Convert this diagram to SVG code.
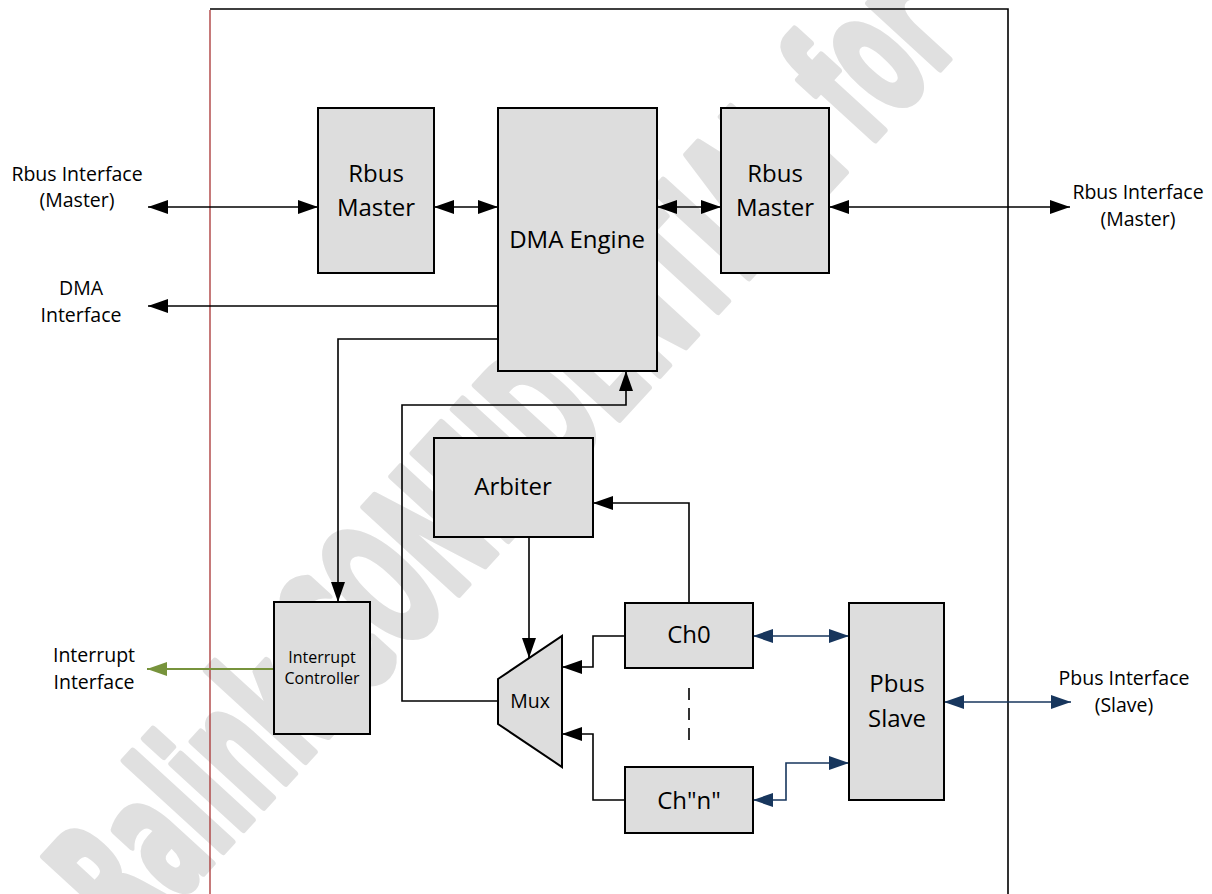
<svg xmlns="http://www.w3.org/2000/svg" width="1212" height="894" viewBox="0 0 1212 894">
<defs>
<style>
.box{fill:#dddddd;stroke:#000;stroke-width:2}
.t{font-family:'Open Sans','Noto Sans',sans-serif;fill:#000;text-anchor:middle}
.big{font-size:24px}
.lab{font-size:19.5px}
.sm{font-size:16px}
.c{fill:none;stroke:#000;stroke-width:1.6}
.n{fill:none;stroke:#17365d;stroke-width:1.6}
.g{fill:none;stroke:#77933c;stroke-width:2}
.wm{font-family:'DejaVu Sans Condensed','DejaVu Sans',sans-serif;font-weight:bold;font-size:175px;fill:#e0e0e0;stroke:#e0e0e0;stroke-width:8;stroke-linejoin:round}
</style>
<marker id="ab" viewBox="0 0 20 14" refX="20" refY="7" markerWidth="20" markerHeight="14" markerUnits="userSpaceOnUse" orient="auto-start-reverse"><path d="M0,0 L20,7 L0,14 z" fill="#000"/></marker>
<marker id="an" viewBox="0 0 20 14" refX="20" refY="7" markerWidth="20" markerHeight="14" markerUnits="userSpaceOnUse" orient="auto-start-reverse"><path d="M0,0 L20,7 L0,14 z" fill="#17365d"/></marker>
<marker id="ag" viewBox="0 0 20 14" refX="20" refY="7" markerWidth="20" markerHeight="14" markerUnits="userSpaceOnUse" orient="auto-start-reverse"><path d="M0,0 L20,7 L0,14 z" fill="#77933c"/></marker>
</defs>
<rect width="1212" height="894" fill="#fff"/>
<text class="wm" transform="translate(132,950) rotate(-47.5)" textLength="1230" lengthAdjust="spacingAndGlyphs">Ralink CONFIDENTIAL for</text>
<g id="frame">
<path d="M210,10 V894" stroke="#a83232" stroke-width="1.3" fill="none"/>
<path d="M210,9 H1008 V894" stroke="#000" stroke-width="1.6" fill="none"/>
</g>
<g id="connectors">
<path class="c" d="M148,207 H318" marker-start="url(#ab)" marker-end="url(#ab)"/>
<path class="c" d="M434,207 H498" marker-start="url(#ab)" marker-end="url(#ab)"/>
<path class="c" d="M657,207 H721" marker-start="url(#ab)" marker-end="url(#ab)"/>
<path class="c" d="M829,207 H1070" marker-start="url(#ab)" marker-end="url(#ab)"/>
<path class="c" d="M498,306 H148" marker-end="url(#ab)"/>
<path class="c" d="M498,339 H338 V602" marker-end="url(#ab)"/>
<path class="c" d="M498,701 H402 V405 H626 V371" marker-end="url(#ab)"/>
<path class="c" d="M529,537 V658" marker-end="url(#ab)"/>
<path class="c" d="M689,603 V503 H593" marker-end="url(#ab)"/>
<path class="c" d="M625,636 H593 V667 H562" marker-end="url(#ab)"/>
<path class="c" d="M625,800 H593 V734 H562" marker-end="url(#ab)"/>
<path class="c" d="M689,688 V742" stroke-dasharray="12,8"/>
<path class="n" d="M753,636 H849" marker-start="url(#an)" marker-end="url(#an)"/>
<path class="n" d="M753,800 H786 V763 H849" marker-start="url(#an)" marker-end="url(#an)"/>
<path class="n" d="M944,702 H1071" marker-start="url(#an)" marker-end="url(#an)"/>
<path class="g" d="M274,669 H147" marker-end="url(#ag)"/>
</g>
<g id="labels">
<text class="t lab" x="77" y="181">Rbus Interface</text>
<text class="t lab" x="77" y="207">(Master)</text>
<text class="t lab" x="81" y="295">DMA</text>
<text class="t lab" x="81" y="322">Interface</text>
<text class="t lab" x="94" y="662">Interrupt</text>
<text class="t lab" x="94" y="689">Interface</text>
<text class="t lab" x="1138" y="199">Rbus Interface</text>
<text class="t lab" x="1138" y="226">(Master)</text>
<text class="t lab" x="1124" y="685">Pbus Interface</text>
<text class="t lab" x="1124" y="712">(Slave)</text>
</g>
<g id="rbus-master-left">
<rect class="box" x="318" y="108" width="116" height="165"/>
<text class="t big" x="376" y="182">Rbus</text>
<text class="t big" x="376" y="216">Master</text>
</g>
<g id="dma-engine">
<rect class="box" x="498" y="108" width="159" height="263"/>
<text class="t big" x="577" y="248">DMA Engine</text>
</g>
<g id="rbus-master-right">
<rect class="box" x="721" y="108" width="108" height="165"/>
<text class="t big" x="775" y="182">Rbus</text>
<text class="t big" x="775" y="216">Master</text>
</g>
<g id="arbiter">
<rect class="box" x="434" y="438" width="159" height="99"/>
<text class="t big" x="513" y="495">Arbiter</text>
</g>
<g id="interrupt-controller">
<rect class="box" x="274" y="602" width="96" height="132"/>
<text class="t sm" x="322" y="663">Interrupt</text>
<text class="t sm" x="322" y="684">Controller</text>
</g>
<g id="mux">
<polygon class="box" points="498,679 562,636 562,767 498,724"/>
<text class="t lab" x="530" y="708">Mux</text>
</g>
<g id="ch0">
<rect class="box" x="625" y="603" width="128" height="65"/>
<text class="t big" x="689" y="643">Ch0</text>
</g>
<g id="chn">
<rect class="box" x="625" y="767" width="128" height="66"/>
<text class="t big" x="689" y="809">Ch"n"</text>
</g>
<g id="pbus-slave">
<rect class="box" x="849" y="603" width="95" height="197"/>
<text class="t big" x="897" y="692">Pbus</text>
<text class="t big" x="897" y="727">Slave</text>
</g>
</svg>
